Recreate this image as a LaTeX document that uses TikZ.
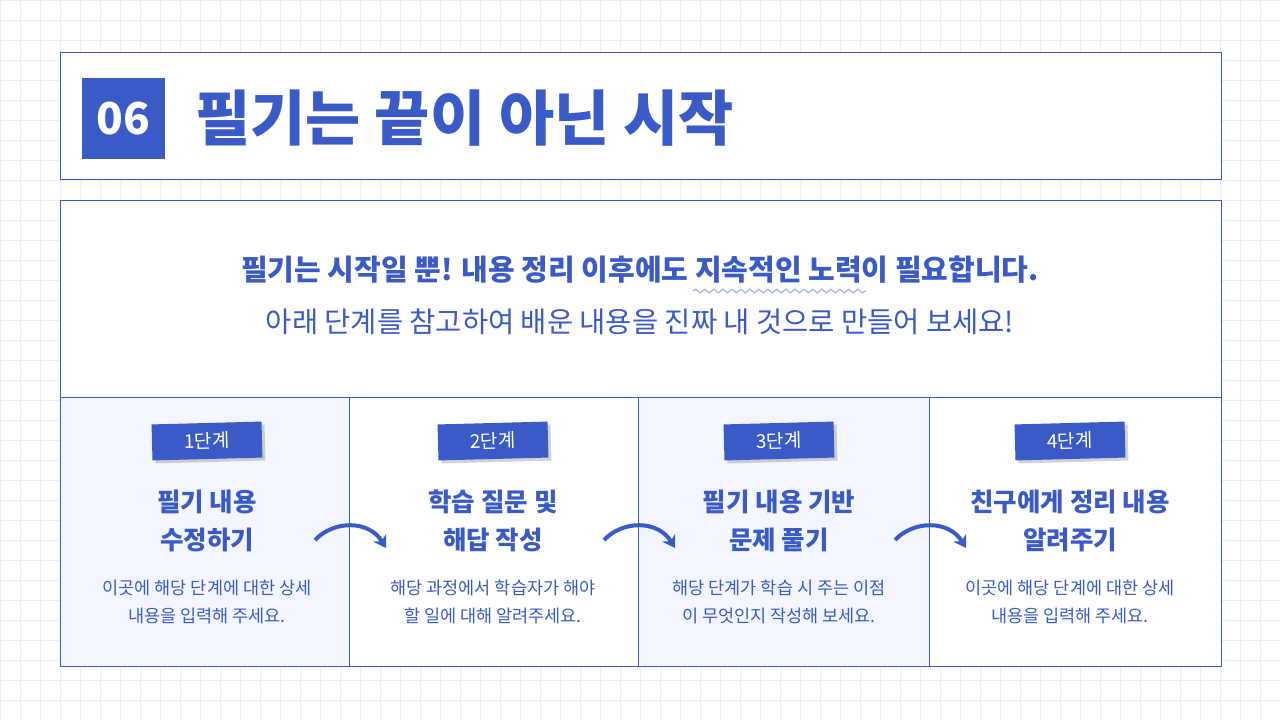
\documentclass[tikz,border=0pt]{standalone}
\usepackage{fontspec}
\setmainfont{Noto Sans CJK KR}
\usetikzlibrary{decorations.pathmorphing,arrows.meta,shadows}
\definecolor{mblue}{HTML}{3A5BC7}
\definecolor{lblue}{HTML}{F3F6FE}
\definecolor{gridc}{HTML}{E9EDF4}
\begin{document}
\begin{tikzpicture}[x=1pt,y=-1pt,
  frame/.style={draw=mblue,line width=1pt},
  tag/.style={fill=mblue,text=white,minimum width=110pt,minimum height=36pt,rotate=1.5,font=\fontsize{19}{19}\selectfont,drop shadow={shadow xshift=3pt,shadow yshift=-3pt,opacity=0.35}},
  head/.style={text=mblue,font=\fontsize{25.5}{38}\selectfont\bfseries,align=center},
  desc/.style={text=mblue,font=\fontsize{17.5}{28}\selectfont,align=center},
  arr/.style={draw=mblue,line width=4pt,-{Stealth[length=12pt,width=15pt]}}]
\useasboundingbox (0,0) rectangle (1280,720);
\fill[white] (0,0) rectangle (1280,720);
\foreach \i in {0,20,...,1280} \draw[gridc,line width=0.6pt] (\i,0) -- (\i,720);
\foreach \i in {0,20,...,720} \draw[gridc,line width=0.6pt] (0,\i) -- (1280,\i);
% title
\draw[frame,fill=white] (60,52) rectangle (1221,179);
\node[fill=mblue,minimum width=83pt,minimum height=81pt,text=white,font=\fontsize{44}{44}\selectfont\bfseries] (badge) at (123.5,118.5) {06};
\node[anchor=west,text=mblue,font=\fontsize{60}{60}\selectfont\bfseries] (title) at (192,118) {필기는 끝이 아닌 시작};
% main
\draw[frame,fill=white] (60,200) rectangle (1221,666);
\fill[lblue] (60,397) rectangle (349,666);
\fill[lblue] (638,397) rectangle (929,666);
\draw[frame] (60,200) rectangle (1221,666);
\draw[frame] (60,397) -- (1221,397);
\foreach \x in {349,638,929} \draw[frame] (\x,397) -- (\x,666);
\node[text=mblue,font=\fontsize{29}{29}\selectfont\bfseries] (l1) at (640,270) {필기는 시작일 뿐! 내용 정리 이후에도 지속적인 노력이 필요합니다.};
\node[text=mblue,font=\fontsize{28.5}{28.5}\selectfont] (l2) at (640,322) {아래 단계를 참고하여 배운 내용을 진짜 내 것으로 만들어 보세요!};
\draw[mblue!45,line width=1.2pt,decorate,decoration={snake,amplitude=1.8pt,segment length=9pt}] (693,291) -- (866,291);
% steps
\foreach \cx/\n/\ha/\hb/\da/\db in {
 207/1/필기 내용/수정하기/이곳에 해당 단계에 대한 상세/내용을 입력해 주세요.,
 493/2/학습 질문 및/해답 작성/해당 과정에서 학습자가 해야/할 일에 대해 알려주세요.,
 779/3/필기 내용 기반/문제 풀기/해당 단계가 학습 시 주는 이점/이 무엇인지 작성해 보세요.,
 1070/4/친구에게 정리 내용/알려주기/이곳에 해당 단계에 대한 상세/내용을 입력해 주세요.}{
  \node[tag] (t\n) at (\cx,441) {{\n}단계};
  \node[head] (h\n) at (\cx,521) {{\ha}\\{\hb}};
  \node[desc] (d\n) at (\cx,602) {{\da}\\{\db}};
}
\foreach \x [count=\k] in {349,638,929}{
  \coordinate (s\k) at (\x-34,540);
  \coordinate (e\k) at (\x+37,548);
  \draw[arr] (s\k) .. controls (\x-15,520) and (\x+20,520) .. (e\k);
}
\end{tikzpicture}
\end{document}
